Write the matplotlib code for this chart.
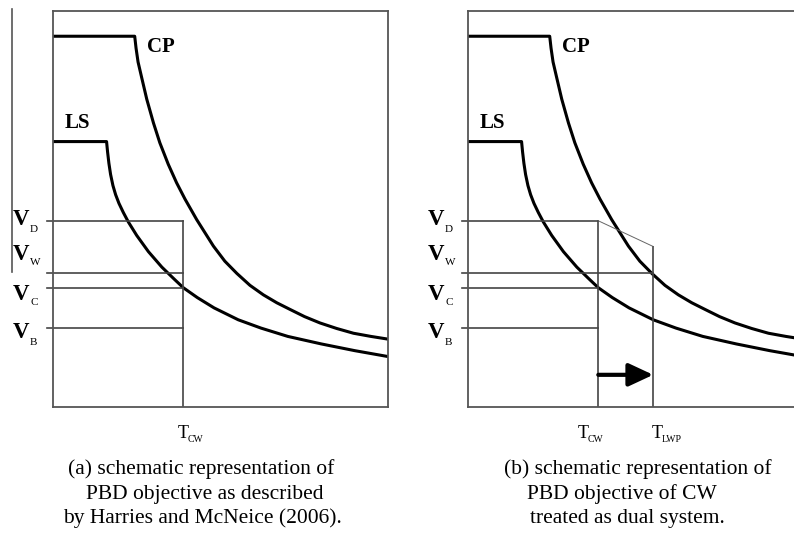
import matplotlib
matplotlib.use("Agg")
import matplotlib.pyplot as plt

# curve shapes (T and V as fractions of the plot box)
T_cp = [0.0, 0.243, 0.247, 0.253, 0.264, 0.279, 0.299, 0.318, 0.343, 0.368,
        0.393, 0.428, 0.478, 0.512, 0.548, 0.587, 0.627, 0.667, 0.707, 0.750,
        0.796, 0.846, 0.896, 0.948, 1.0]
V_cp = [0.935, 0.935, 0.905, 0.870, 0.830, 0.776, 0.716, 0.666, 0.612, 0.565,
        0.524, 0.472, 0.405, 0.367, 0.336, 0.306, 0.282, 0.262, 0.245, 0.227,
        0.211, 0.197, 0.185, 0.177, 0.170]
T_ls = [0.0, 0.159, 0.162, 0.166, 0.171, 0.178, 0.186, 0.196, 0.209, 0.224,
        0.249, 0.284, 0.324, 0.363, 0.388, 0.430, 0.480, 0.552, 0.620, 0.700,
        0.800, 0.900, 1.0]
V_ls = [0.669, 0.669, 0.643, 0.614, 0.586, 0.558, 0.535, 0.513, 0.490, 0.466,
        0.432, 0.391, 0.352, 0.320, 0.300, 0.275, 0.249, 0.219, 0.198, 0.177,
        0.158, 0.141, 0.126]

levels = {"D": 0.469, "W": 0.336, "C": 0.300, "B": 0.197}
T_cw = 0.388
T_lwp = 0.552
V_diag_end = 0.404
V_arrow = 0.080

captions_a = ["(a) schematic representation of",
              "PBD objective as described",
              "by Harries and McNeice (2006)."]
captions_b = ["(b) schematic representation of",
              "PBD objective of CW",
              "treated as dual system."]

W, H = 794, 533
fig = plt.figure(figsize=(W / 100, H / 100), dpi=100)
serif = "Liberation Serif"
frame_col = "#555555"
line_col = "#444444"


def px(x, y):
    return x / W, 1 - y / H


def make_axes(left):
    ax = fig.add_axes([left / W, (H - 406.5) / H, 335 / W, 396 / H])
    ax.set_xlim(0, 1)
    ax.set_ylim(0, 1)
    ax.set_xticks([])
    ax.set_yticks([])
    for s in ax.spines.values():
        s.set_color(frame_col)
        s.set_linewidth(1.3)
    ax.plot(T_cp, V_cp, color="black", lw=2.2, solid_joinstyle="round")
    ax.plot(T_ls, V_ls, color="black", lw=2.2, solid_joinstyle="round")
    return ax


def level_lines(ax, t_end, keys, t_w=None):
    x0 = -0.019
    for k in keys:
        te = t_end
        if k == "W" and t_w is not None:
            te = t_w
        ax.plot([x0, te], [levels[k], levels[k]], color=line_col, lw=1.2,
                clip_on=False)


def v_labels(dx):
    base = {"D": (225, 232), "W": (260, 265), "C": (300, 305), "B": (338, 345)}
    for k, (yb, ys) in base.items():
        fig.text(*px(13 + dx, yb), "V", family=serif, weight="bold",
                 fontsize=16.5, va="baseline")
        fig.text(*px(30 + dx, ys), k, family=serif, fontsize=8, va="baseline")


def curve_labels(dx):
    fig.text(*px(147 + dx, 52), "CP", family=serif, weight="bold",
             fontsize=15, va="baseline")
    fig.text(*px(65 + dx, 128), "LS", family=serif, weight="bold",
             fontsize=15, va="baseline")


def t_label(x, sub):
    fig.text(*px(x, 438), "T", family=serif, fontsize=13, va="baseline")
    fig.text(*px(x + 10, 442), sub, family=serif, fontsize=7, va="baseline")


# panel (a)
ax1 = make_axes(53.3)
level_lines(ax1, T_cw, levels.keys())
ax1.plot([T_cw, T_cw], [0, levels["D"]], color=line_col, lw=1.2)
fig.add_artist(plt.Line2D([12 / W, 12 / W], [1 - 272 / H, 1 - 9 / H],
                          color=frame_col, lw=1.2))
v_labels(0)
curve_labels(0)
t_label(178, "CW")

# panel (b)
ax2 = make_axes(468.3)
level_lines(ax2, T_cw, levels.keys(), t_w=T_lwp)
ax2.plot([T_cw, T_cw], [0, levels["D"]], color=line_col, lw=1.2)
ax2.plot([T_cw, T_lwp], [levels["D"], V_diag_end], color="#666666", lw=0.7)
ax2.plot([T_lwp, T_lwp], [0, V_diag_end], color=line_col, lw=1.2)
ax2.annotate("", xy=(T_lwp, V_arrow), xytext=(T_cw, V_arrow),
             arrowprops=dict(arrowstyle="-|>,head_length=1.5,head_width=0.7",
                             lw=3.0, color="black", shrinkA=0, shrinkB=0))
v_labels(415)
curve_labels(415)
t_label(578, "CW")
t_label(652, "LWP")

# captions
for txt, cx, yb in zip(captions_a, [201, 205, 202], [474, 499, 523]):
    fig.text(*px(cx, yb), txt, family=serif, fontsize=15.5, ha="center",
             va="baseline")
for txt, cx, yb in zip(captions_b, [638, 622, 627], [474, 499, 523]):
    fig.text(*px(cx, yb), txt, family=serif, fontsize=15.5, ha="center",
             va="baseline")

fig.savefig("out.png", dpi=100)
